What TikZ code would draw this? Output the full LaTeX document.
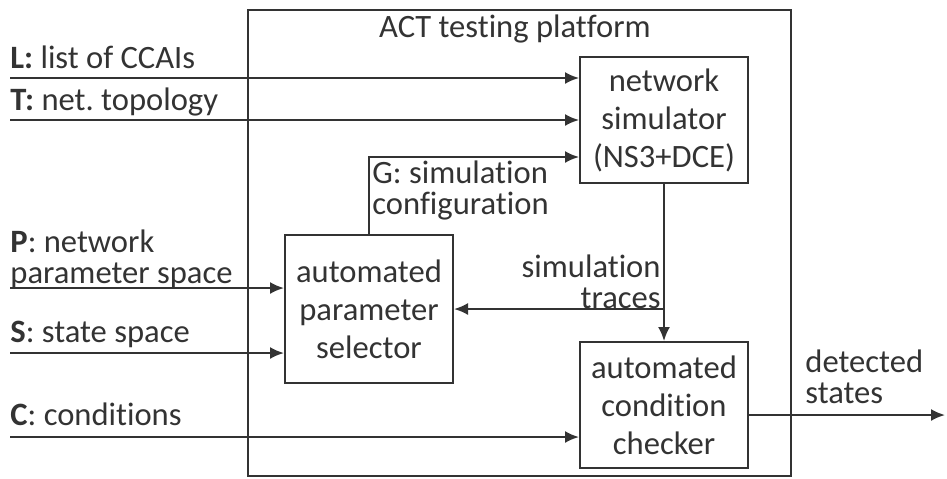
\documentclass[tikz,border=0pt]{standalone}
\usepackage{fontspec}
\setmainfont[Ligatures=NoCommon]{Carlito}
\usetikzlibrary{arrows.meta,positioning}
\begin{document}
\frenchspacing
\begin{tikzpicture}[x=0.5pt,y=-0.5pt,
  font=\fontsize{16.3}{19}\selectfont,
  line/.style={draw=black!80,line width=1pt},
  flow/.style={line,-{Latex[length=7pt,width=6pt]}},
  block/.style={line,text=black!80,minimum width=84pt,minimum height=63pt,align=center,inner sep=0pt},
  lbl/.style={inner sep=0pt,text=black!80,font=\fontsize{16.3}{15.5}\selectfont}]
\useasboundingbox (0,0) rectangle (947,478);
% platform frame and title
\node[block,minimum width=271.5pt,minimum height=233pt] (platform) at (519.5,243) {};
\node[lbl,anchor=base] (title) at (515,37) {ACT testing platform};
% blocks
\node[block] (sim) at (664,120) {network\\simulator\\(NS3+DCE)};
\node[block,minimum height=74pt] (sel) at (369,309) {automated\\parameter\\selector};
\node[block] (chk) at (664,405) {automated\\condition\\checker};
% inputs
\coordinate (inL) at (10,78);
\coordinate (inT) at (10,120);
\coordinate (inP) at (10,288);
\coordinate (inS) at (10,353);
\coordinate (inC) at (10,437);
\draw[flow] (inL) -- (inL -| sim.west);
\draw[flow] (inT) -- (inT -| sim.west);
\draw[flow] (inP) -- (inP -| sel.west);
\draw[flow] (inS) -- (inS -| sel.west);
\draw[flow] (inC) -- (inC -| chk.west);
\node[lbl,anchor=base west] (labL) at (10,68) {\textbf{L:} list of CCAIs};
\node[lbl,anchor=base west] (labT) at (10,110) {\textbf{T:} net. topology};
\node[lbl,anchor=north west,align=left] (labP) at (10,229) {\textbf{P}: network\\parameter space};
\node[lbl,anchor=base west] (labS) at (10,342) {\textbf{S}: state space};
\node[lbl,anchor=base west] (labC) at (10,425) {\textbf{C}: conditions};
% internal flows
\coordinate (bendG) at (369,157);
\draw[flow] (sel.north) -- (bendG) -- (bendG -| sim.west);
\node[lbl,anchor=north west,align=left] (labG) at (372,160) {G: simulation\\configuration};
\draw[flow] (sim.south) -- (chk.north);
\coordinate (trace) at (664,309);
\draw[flow] (trace) -- (sel.east);
\node[lbl,anchor=north east,align=right] (labTr) at (661,254) {simulation\\traces};
% output
\coordinate (outD) at (945,415);
\draw[flow] (chk.east |- outD) -- (outD);
\node[lbl,anchor=north west,align=left] (labD) at (805,349) {detected\\states};
\end{tikzpicture}
\end{document}
